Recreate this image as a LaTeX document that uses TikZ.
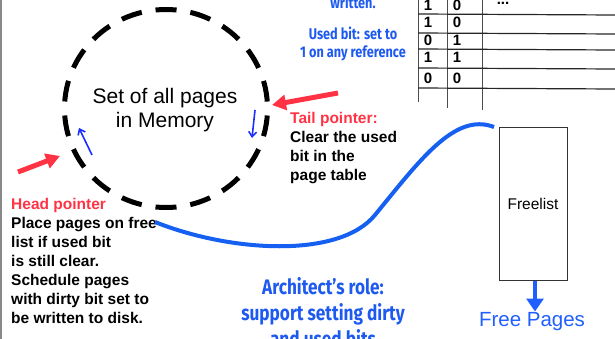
\documentclass[tikz,border=0pt]{standalone}
\usepackage{fontspec}
\setmainfont{Liberation Sans}
\newfontfamily\handfont[FakeStretch=0.82]{Fira Sans}
\usetikzlibrary{arrows.meta}

\definecolor{ptrred}{HTML}{FF3344}
\definecolor{handblue}{HTML}{1E5AF0}
\definecolor{curveblue}{HTML}{1560F0}
\definecolor{tinyblue}{HTML}{1A2EFF}
\definecolor{pageblue}{HTML}{1F5FFF}
\definecolor{rulegray}{HTML}{888888}

\begin{document}
\begin{tikzpicture}[x=1pt,y=-1pt,
  bodytext/.style={font=\fontsize{15.5}{19}\selectfont\bfseries, align=left, inner sep=0, anchor=north west},
  handtext/.style={text=handblue, align=center, inner sep=0},
  cell/.style={font=\fontsize{15}{18}\selectfont\bfseries, inner sep=0},
  redptr/.style={draw=ptrred, line width=5pt, -{Triangle[length=14pt,width=15pt]}},
  tinyptr/.style={draw=tinyblue, line width=1.6pt, -{Straight Barb[length=5pt,width=8pt]}},
  tableline/.style={draw=black!85, line width=1.2pt},
  tablecol/.style={draw=black!70, line width=1pt}]
\useasboundingbox (0,0) rectangle (615,339);
\clip (0,0) rectangle (615,339);

% frame edge on the left
\draw[rulegray, line width=1.5pt] (1,0) -- (1,339);

% ring of resident pages
\coordinate (ringc) at (166,108.5);
\draw[line width=5pt, dash pattern=on 21pt off 14pt, dash phase=28pt]
  (ringc) ellipse [x radius=101.5, y radius=99];
\node[font=\fontsize{21}{24}\selectfont, align=center, inner sep=0] (mem) at (165,110)
  {Set of all pages\\in Memory};

% direction of the clock hands
\coordinate (hA) at (92,155);  \coordinate (hB) at (79,128);
\coordinate (tA) at (255,110); \coordinate (tB) at (252,138);
\draw[tinyptr] (hA) -- (hB);
\draw[tinyptr] (tA) -- (tB);

% head and tail pointers
\coordinate (headFrom) at (18,172); \coordinate (headTo) at (60,156);
\coordinate (tailFrom) at (338,93); \coordinate (tailTo) at (272,105);
\draw[redptr] (headFrom) -- (headTo);
\draw[redptr] (tailFrom) -- (tailTo);

\node[bodytext] (headtxt) at (11,198)
  {\textcolor{ptrred}{Head pointer}\\Place pages on free\\list if used bit\\is still clear.\\Schedule pages\\with dirty bit set to\\be written to disk.};
\node[bodytext] (tailtxt) at (290,112.5)
  {\textcolor{ptrred}{Tail pointer:}\\Clear the used\\bit in the\\page table};

% page table columns (dirty / used)
\draw[tablecol] (418,0) -- (418,102);
\draw[tablecol] (447,0) -- (447,108);
\draw[tablecol] (482,0) -- (482,110);
\foreach \ry in {14,33,49,68,88}
  \draw[tableline] (418,\ry) -- (615,\ry+1);
\foreach \ry/\da/\db [count=\i] in {5/1/0,22/1/0,40/0/1,57/1/1,78/0/0} {
  \node[cell] (da\i) at (428,\ry) {\da};
  \node[cell] (db\i) at (457,\ry) {\db};
}
\node[cell] (dots) at (503,3) {...};

% notes on the bits
\node[handtext, font=\handfont\bfseries\fontsize{15.5}{18}\selectfont] (usednote) at (353,44)
  {Used bit: set to\\1 on any reference};
\node[handtext, font=\handfont\bfseries\fontsize{15.5}{18}\selectfont] (writtennote) at (353,2) {written.};
\node[handtext, font=\handfont\bfseries\fontsize{21}{26}\selectfont, anchor=north] (arch) at (323,277)
  {Architect’s role:\\support setting dirty\\and used bits};

% free list
\node[draw=black!80, line width=1pt, minimum width=68, minimum height=152, inner sep=0,
      font=\fontsize{15.5}{18}\selectfont] (free) at (533,204) {Freelist};
\node[font=\fontsize{20.5}{24}\selectfont, text=pageblue, inner sep=0] (freepages) at (532,322) {Free Pages};
\draw[draw=pageblue, line width=4pt, -{Triangle[length=13pt,width=17pt]}]
  ([xshift=2pt]free.south) -- ++(0,31);

% path of reclaimed pages into the free list
\coordinate (curveA) at (155,222);
\coordinate (curveB) at (494,127);
\draw[curveblue, line width=4pt]
  (curveA) .. controls (230,252) and (339,259) .. (375,215)
           .. controls (420,160) and (455,112) .. (curveB);
\end{tikzpicture}
\end{document}
